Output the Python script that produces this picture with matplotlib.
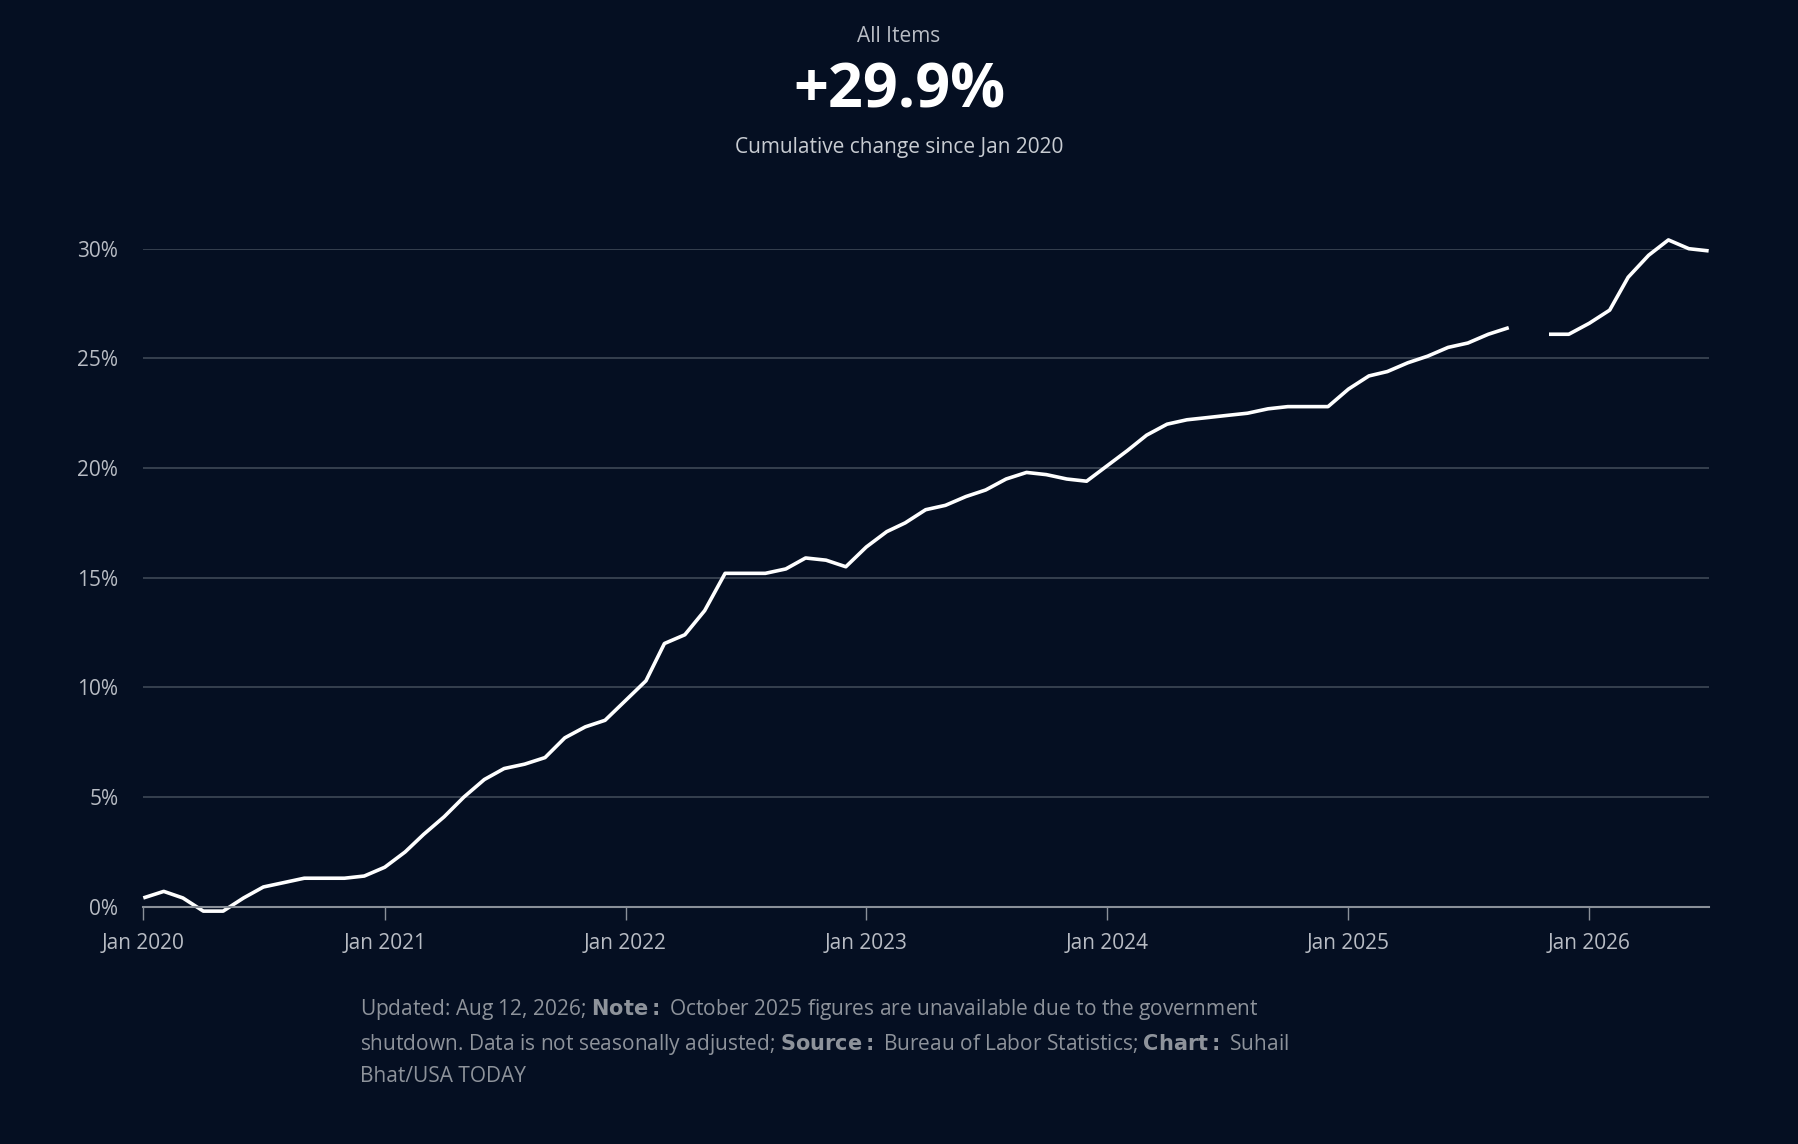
import matplotlib
matplotlib.use("Agg")
import matplotlib.pyplot as plt
import numpy as np
import pandas as pd

months = pd.date_range("2020-01-01", "2026-07-01", freq="MS")
values = [0.4,0.7,0.4,-0.2,-0.2,0.4,0.9,1.1,1.3,1.3,1.3,1.4,
          1.8,2.5,3.3,4.1,5.0,5.8,6.3,6.5,6.8,7.7,8.2,8.5,
          9.4,10.3,12.0,12.4,13.5,15.2,15.2,15.2,15.4,15.9,15.8,15.5,
          16.4,17.1,17.5,18.1,18.3,18.7,19.0,19.5,19.8,19.7,19.5,19.4,
          20.1,20.8,21.5,22.0,22.2,22.3,22.4,22.5,22.7,22.8,22.8,22.8,
          23.6,24.2,24.4,24.8,25.1,25.5,25.7,26.1,26.4,np.nan,26.1,26.1,
          26.6,27.2,28.7,29.7,30.4,30.0,29.9]
yticks = [0,5,10,15,20,25,30]
xtick_years = [2020,2021,2022,2023,2024,2025,2026]

BG = "#050f22"
plt.rcParams['font.family'] = ['Open Sans', 'DejaVu Sans']
fig = plt.figure(figsize=(17.98, 11.44), dpi=100, facecolor=BG)
ax = fig.add_axes([0.0797, 0.2074, 0.8706, 0.5752], facecolor=BG)
ax.plot(months, values, color="white", lw=2.6, clip_on=False, solid_capstyle="butt")
ax.set_ylim(0, 30)
ax.set_xlim(months[0], months[-1])
ax.set_yticks(yticks)
ax.set_yticklabels([f"{v}%" for v in yticks])
for v in yticks[1:]:
    ax.axhline(v, color="#3a4452", lw=1.3, zorder=0)
ax.set_xticks([pd.Timestamp(f"{y}-01-01") for y in xtick_years])
ax.set_xticklabels([f"Jan {y}" for y in xtick_years])
for s in ["top", "right", "left"]:
    ax.spines[s].set_visible(False)
ax.spines["bottom"].set_color("#8a9099")
ax.spines["bottom"].set_linewidth(1.5)
ax.tick_params(axis="y", length=0, pad=18, labelsize=15, labelcolor="#b8bcc4")
ax.tick_params(axis="x", length=9, width=1, color="#8a9099", pad=10, labelsize=15, labelcolor="#b8bcc4")

fig.text(0.5, 0.968, "All Items", ha="center", va="center", color="#b8bcc4", fontsize=15)
fig.text(0.5, 0.92, "+29.9%", ha="center", va="center", color="white", fontsize=44, fontweight="bold")
fig.text(0.5, 0.871, "Cumulative change since Jan 2020", ha="center", va="center", color="#c8ccd2", fontsize=15)

fc = "#8e939b"
fig.text(0.2, 0.089, "Updated: Aug 12, 2026; $\\bf{Note:}$ October 2025 figures are unavailable due to the government\n"
         "shutdown. Data is not seasonally adjusted; $\\bf{Source:}$ Bureau of Labor Statistics; $\\bf{Chart:}$ Suhail\n"
         "Bhat/USA TODAY", ha="left", va="center", color=fc, fontsize=15, linespacing=1.55)
fig.savefig("out.png", dpi=100, facecolor=BG)
